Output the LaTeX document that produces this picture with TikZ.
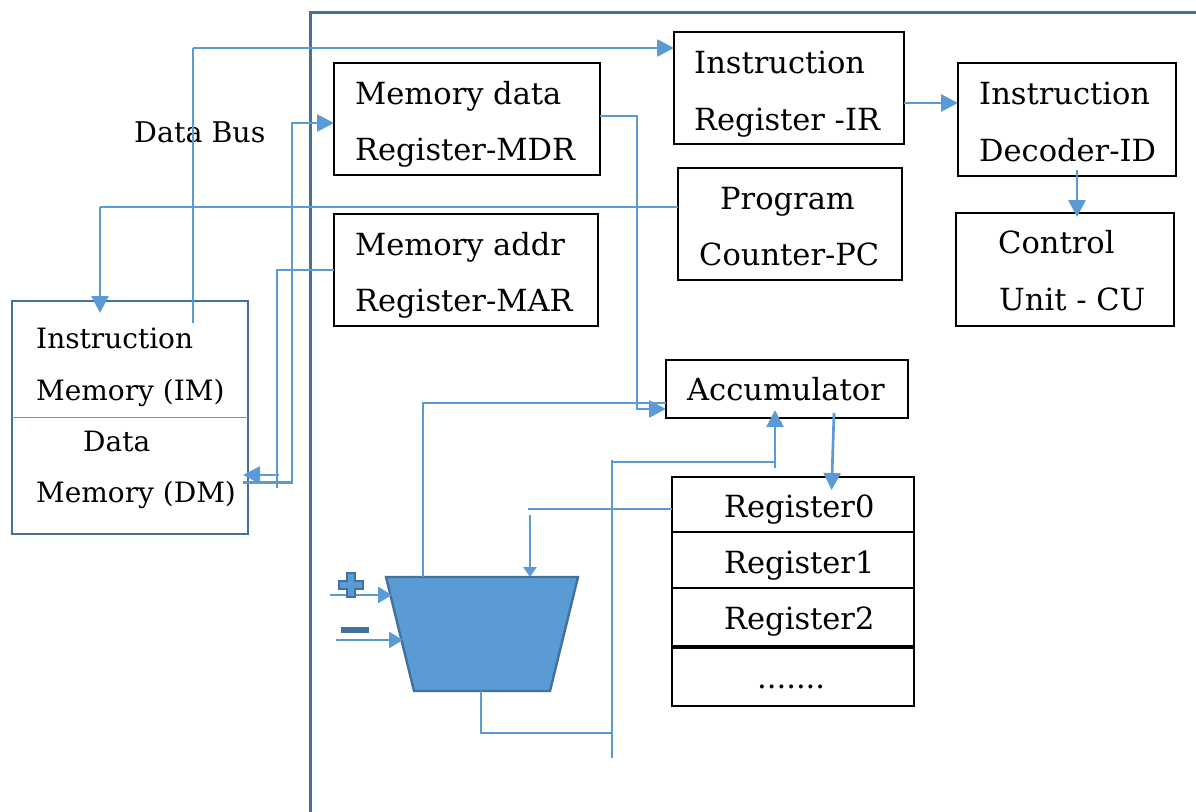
\documentclass[tikz,border=0pt]{standalone}
\usepackage{fontspec}
\setmainfont{DejaVu Serif}
\usetikzlibrary{arrows.meta,calc}
\definecolor{cblue}{HTML}{5B9BD5}
\definecolor{fblue}{HTML}{41719C}
\begin{document}
\begin{tikzpicture}[x=1pt,y=-1pt,
  box/.style={draw=black,line width=2pt,anchor=north west,inner sep=0pt,outer sep=0pt},
  txt/.style={inner sep=0pt,anchor=base west,font=\fontsize{30.5}{36}\selectfont},
  memtxt/.style={txt,font=\fontsize{28}{33}\selectfont},
  thinc/.style={draw=cblue,line width=1.3pt},
  medc/.style={draw=cblue,line width=2.7pt},
  arr/.style={-{Triangle[length=17pt,width=17pt]}}]
\useasboundingbox (0,0) rectangle (1196,811);
\fill[white] (0,0) rectangle (1196,811);
% CPU frame
\draw[fblue,line width=3pt] (310,820) -- (310,12) -- (1200,12);
% boxes
\node[box,minimum width=266pt,minimum height=112pt] (mdr) at (334,63) {};
\node[box,minimum width=264pt,minimum height=112pt] (mar) at (334,214) {};
\node[box,minimum width=230pt,minimum height=112pt] (ir) at (674,32) {};
\node[box,minimum width=224pt,minimum height=112pt] (pc) at (678,168) {};
\node[box,minimum width=218pt,minimum height=113pt] (idd) at (958,63) {};
\node[box,minimum width=218pt,minimum height=113pt] (cu) at (956,213) {};
\node[box,minimum width=242pt,minimum height=58pt] (acc) at (666,360) {};
\node[box,minimum width=242pt,minimum height=55pt] (r0) at (672,477) {};
\node[box,minimum width=242pt,minimum height=56pt] (r1) at (672,532) {};
\node[box,minimum width=242pt,minimum height=58pt] (r2) at (672,588) {};
\node[box,minimum width=242pt,minimum height=58pt] (r3) at (672,648) {};
\node[box,draw=fblue,line width=2.4pt,minimum width=236pt,minimum height=233pt] (imdm) at (12,301) {};
\draw[thinc] (imdm.west) -- (imdm.east);
% texts
\node[txt] (t1) at (355,104) {Memory data};
\node[txt] (t2) at (355,160) {Register-MDR};
\node[txt] (t3) at (355,255) {Memory addr};
\node[txt] (t4) at (355,311) {Register-MAR};
\node[txt] (t5) at (694,73) {Instruction};
\node[txt] (t6) at (694,130) {Register -IR};
\node[txt] (t7) at (720,209) {Program};
\node[txt] (t8) at (699,265) {Counter-PC};
\node[txt] (t9) at (979,104) {Instruction};
\node[txt] (t10) at (979,161) {Decoder-ID};
\node[txt] (t11) at (998,253) {Control};
\node[txt] (t12) at (999,310) {Unit - CU};
\node[txt] (t13) at (687,400) {Accumulator};
\node[memtxt] (t14) at (36,348) {Instruction};
\node[memtxt] (t15) at (36,400) {Memory (IM)};
\node[memtxt] (t16) at (83,451) {Data};
\node[memtxt] (t17) at (36,502) {Memory (DM)};
\node[txt] (t18) at (724,517) {Register0};
\node[txt] (t19) at (724,573) {Register1};
\node[txt] (t20) at (724,629) {Register2};
\node[txt] (t21) at (757,688) {.......};
\node[txt,font=\fontsize{28.5}{34}\selectfont] (dbus) at (134,142) {Data Bus};
% data bus to IR
\coordinate (dbs) at (193,323);
\coordinate (dbc) at (193,48);
\draw[thinc] (dbs) -- (dbc);
\draw[medc,arr] (dbc) -- (dbc -| ir.west);
% PC to IM
\coordinate (pcc) at (100,207);
\draw[thinc] (pcc -| pc.west) -- (pcc);
\draw[medc,arr,shorten >=-12pt] (pcc) -- (pcc |- imdm.north);
% MDR to accumulator
\draw[medc,arr] ([yshift=3pt]mdr.east) -- ++(37,0) |- ([yshift=-20pt]acc.west);
% DM to MDR
\draw[medc,arr] ([yshift=-65pt,xshift=-5pt]imdm.east) -- ++(49,0) |- ([yshift=-4pt]mdr.west);
% MAR to DM
\coordinate (marc) at (277,270);
\draw[thinc] (mar.west) -- (marc) -- ++(0,218);
\draw[medc,arr,shorten >=-5pt] ([yshift=-57.5pt,xshift=31pt]imdm.east) -- ([yshift=-57.5pt]imdm.east);
% IR to ID
\draw[medc,arr] ([yshift=-15pt]ir.east) -- ([yshift=-15pt]ir.east -| idd.west);
% ID to CU
\draw[medc,arr,shorten >=-4pt] ([xshift=10pt,yshift=6pt]idd.south) -- ([xshift=10pt]idd.south |- cu.north);
% ALU
\draw[fblue,line width=2.4pt,fill=cblue] (386,577) -- (578,577) -- (550,691) -- (414,691) -- cycle;
\coordinate (aluo) at (423,577);
\coordinate (alui) at (530,577);
\coordinate (alub) at (481,691);
\coordinate (alup) at (392,595);
\coordinate (alum) at (403,640);
% ALU to accumulator
\draw[thinc] (aluo) |- ([yshift=-14pt]acc.west);
% Register0 to ALU
\coordinate (r0c) at (530,509);
\draw[thinc] ([yshift=-4.5pt]r0.west) -- ([xshift=-2pt]r0c);
\draw[medc,-{Triangle[length=10pt,width=13pt]}] ([yshift=-6pt]r0c) -- (alui);
% ALU output bus
\coordinate (busT) at (612,460);
\coordinate (busB) at (612,758);
\coordinate (busJ) at (612,733);
\draw[thinc] (busT) -- (busB);
\draw[thinc] (alub) |- (busJ);
\coordinate (accU) at (775,462);
\draw[thinc] (busT |- accU) -- (accU);
\draw[medc,arr,shorten >=-8pt] ([yshift=-6pt]accU) -- (accU |- acc.south);
% Accumulator to Register0
\draw[medc,arr,shorten >=-13pt] ([xshift=47pt,yshift=5pt]acc.south) -- ([xshift=45pt]acc.south |- r0.north);
% + and - inputs
\coordinate (pin) at (330,595);
\coordinate (min) at (336,640);
\draw[medc,-{Triangle[length=14pt,width=16pt]}] (pin) -- (alup);
\draw[medc,-{Triangle[length=14pt,width=16pt]}] (min) -- (alum);
\draw[fblue,line width=1.6pt,fill=cblue] (347,573) -- (355,573) -- (355,581) -- (363,581) -- (363,589) -- (355,589) -- (355,597) -- (347,597) -- (347,589) -- (339,589) -- (339,581) -- (347,581) -- cycle;
\fill[fblue] (341,627) rectangle (369,633);
\end{tikzpicture}
\end{document}
